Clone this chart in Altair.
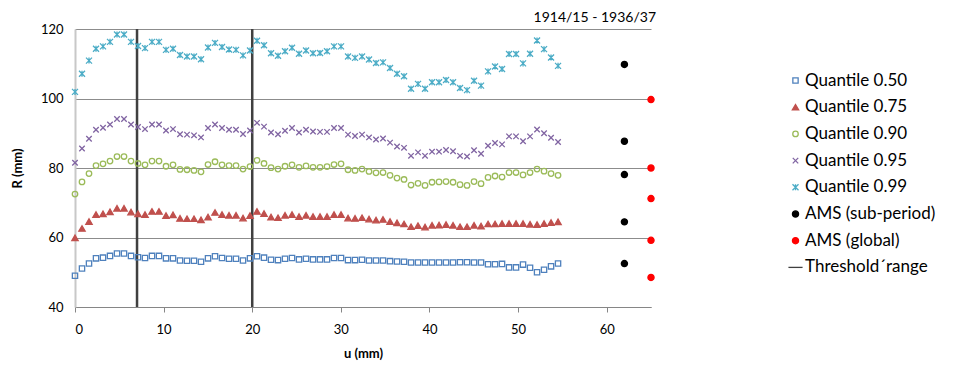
import altair as alt
import pandas as pd

# ---- data ----
u = [0.00, 0.79, 1.58, 2.37, 3.16, 3.95, 4.74, 5.53, 6.32, 7.11,
     7.90, 8.69, 9.48, 10.27, 11.06, 11.85, 12.64, 13.43, 14.22, 15.01,
     15.80, 16.59, 17.38, 18.17, 18.96, 19.75, 20.54, 21.33, 22.12, 22.91,
     23.70, 24.49, 25.28, 26.07, 26.86, 27.65, 28.44, 29.23, 30.02, 30.81,
     31.60, 32.39, 33.18, 33.97, 34.76, 35.55, 36.34, 37.13, 37.92, 38.71,
     39.50, 40.29, 41.08, 41.87, 42.66, 43.45, 44.24, 45.03, 45.82, 46.61,
     47.40, 48.19, 48.98, 49.77, 50.56, 51.35, 52.14, 52.93, 53.72, 54.51]

q50 = [49.0, 51.1, 52.5, 54.0, 54.2, 54.7, 55.4, 55.4, 54.7, 54.3,
       54.1, 54.7, 54.7, 54.0, 54.0, 53.4, 53.3, 53.3, 53.0, 54.0,
       54.6, 54.1, 53.9, 53.9, 53.4, 54.0, 54.6, 54.2, 53.6, 53.5,
       53.9, 54.1, 53.7, 53.9, 53.7, 53.7, 53.7, 54.1, 54.1, 53.5,
       53.5, 53.6, 53.4, 53.4, 53.4, 53.2, 53.1, 53.0, 52.8, 52.8,
       52.8, 52.8, 52.8, 52.8, 52.8, 52.9, 52.9, 52.8, 52.8, 52.3,
       52.3, 52.4, 51.4, 51.4, 52.2, 51.3, 50.0, 50.7, 51.7, 52.5]

q75 = [59.9, 62.6, 64.6, 66.6, 66.8, 67.4, 68.4, 68.4, 67.3, 66.8,
       66.6, 67.5, 67.5, 66.3, 66.5, 65.5, 65.4, 65.4, 65.1, 65.9,
       67.2, 66.6, 66.4, 66.4, 65.6, 66.3, 67.5, 66.9, 65.9, 65.7,
       66.4, 66.6, 66.0, 66.4, 66.0, 66.0, 66.0, 66.6, 66.6, 65.6,
       65.5, 65.7, 65.3, 65.0, 65.2, 64.6, 64.2, 63.9, 63.1, 63.4,
       63.0, 63.5, 63.6, 63.7, 63.5, 63.1, 63.1, 63.5, 63.3, 63.9,
       63.9, 64.0, 64.0, 64.0, 64.0, 63.8, 63.7, 64.0, 64.3, 64.5]

q90 = [72.5, 76.0, 78.4, 80.7, 81.2, 82.0, 83.3, 83.3, 82.0, 81.3,
       80.9, 82.0, 82.0, 80.5, 80.9, 79.6, 79.5, 79.3, 78.9, 81.0,
       81.8, 80.9, 80.7, 80.7, 79.7, 80.4, 82.2, 81.3, 80.1, 79.7,
       80.5, 80.9, 80.2, 80.6, 80.2, 80.2, 80.4, 81.0, 81.2, 79.5,
       79.3, 79.7, 79.0, 78.6, 78.7, 77.9, 77.1, 76.7, 75.1, 75.6,
       75.0, 75.9, 76.0, 76.1, 75.9, 75.2, 75.0, 76.1, 75.5, 77.3,
       77.7, 77.4, 78.7, 78.7, 78.0, 78.7, 79.7, 79.1, 78.4, 77.9]

q95 = [81.5, 85.6, 88.4, 91.0, 91.6, 92.5, 94.1, 94.1, 92.5, 91.8,
       91.2, 92.5, 92.5, 90.8, 91.2, 89.7, 89.6, 89.4, 88.8, 91.5,
       92.5, 91.5, 91.0, 91.0, 89.8, 90.8, 93.0, 91.9, 90.2, 89.7,
       90.7, 91.5, 90.2, 91.0, 90.5, 90.4, 90.4, 91.5, 91.5, 89.6,
       89.2, 89.6, 88.8, 88.2, 88.5, 87.3, 86.2, 85.8, 83.5, 84.5,
       83.5, 84.7, 84.7, 85.2, 84.8, 83.5, 83.3, 85.1, 84.1, 86.4,
       87.2, 86.8, 89.1, 89.1, 87.7, 89.1, 91.1, 90.0, 88.7, 87.5]

q99 = [101.9, 107.1, 110.9, 114.3, 115.0, 116.3, 118.4, 118.4, 116.3, 115.1,
       114.5, 116.3, 116.3, 114.0, 114.3, 112.5, 112.1, 112.1, 111.3, 114.7,
       116.0, 114.8, 114.1, 114.0, 112.4, 113.8, 116.6, 115.3, 113.0, 112.3,
       113.6, 114.6, 112.9, 113.8, 113.0, 113.1, 113.6, 115.0, 115.0, 112.1,
       111.7, 112.1, 111.2, 110.2, 110.4, 108.8, 107.1, 106.4, 102.8, 104.2,
       102.8, 104.7, 104.7, 105.3, 104.7, 103.0, 102.4, 105.1, 103.7, 107.8,
       109.2, 108.5, 112.8, 112.8, 110.1, 112.9, 116.7, 114.2, 111.8, 109.4]

ams_sub_u = 62
ams_sub = [109.8, 87.7, 78.1, 64.5, 52.5]
ams_glob_u = 65
ams_glob = [99.7, 80.0, 71.2, 59.2, 48.5]

thresholds = [7, 20]

series_names = ["Quantile 0.50", "Quantile 0.75", "Quantile 0.90", "Quantile 0.95",
                "Quantile 0.99", "AMS (sub-period)", "AMS (global)", "Threshold\u00b4range"]
shapes = ["square", "triangle-up", "circle",
          "M-1,-1L1,1M-1,1L1,-1",
          "M-1,-1L1,1M-1,1L1,-1M0,-1L0,1",
          "circle", "circle", "stroke"]
fills = ["transparent", "#C0504D", "transparent", "transparent", "transparent",
         "#000000", "#FF0000", "transparent"]
strokes = ["#4F81BD", "#C0504D", "#9BBB59", "#8064A2", "#4BACC6",
           "#000000", "#FF0000", "#404040"]
sizes = [28, 40, 30, 30, 36, 38, 38, 200]

title_text = "1914/15 - 1936/37"

# ---- build tables ----
rows = []
for name, vals in zip(series_names[:5], [q50, q75, q90, q95, q99]):
    for uu, r in zip(u, vals):
        rows.append({"u": uu, "R": r, "series": name})
for r in ams_sub:
    rows.append({"u": ams_sub_u, "R": r, "series": series_names[5]})
for r in ams_glob:
    rows.append({"u": ams_glob_u, "R": r, "series": series_names[6]})
df = pd.DataFrame(rows)
df_thr = pd.DataFrame({"u": thresholds})

FONT = "Lato"

x_enc = alt.X("u:Q", title="u (mm)",
              scale=alt.Scale(domain=[0, 65], nice=False, zero=False),
              axis=alt.Axis(values=[0, 10, 20, 30, 40, 50, 60], grid=False,
                            domainColor="#868686", domainWidth=1.2,
                            tickColor="#868686", tickSize=5, ticks=True,
                            labelPadding=11, titlePadding=11))
y_enc = alt.Y("R:Q", title="R (mm)",
              scale=alt.Scale(domain=[40, 120], nice=False, zero=False),
              axis=alt.Axis(values=[40, 60, 80, 100, 120], grid=True,
                            gridColor="#8C8C8C", gridWidth=1,
                            domainColor="#C8C8C8", domainWidth=2,
                            ticks=False, labelPadding=12, titlePadding=16))

rules = alt.Chart(df_thr).mark_rule(color="#404040", strokeWidth=2.5).encode(
    x=alt.X("u:Q", scale=alt.Scale(domain=[0, 65], nice=False))
)

legend = alt.Legend(title=None, orient="none", legendX=712, legendY=43,
                    labelFont=FONT, labelFontSize=17, labelColor="#000000",
                    rowPadding=8.7, symbolStrokeWidth=1.3, labelOffset=1,
                    padding=0)

points = alt.Chart(df).mark_point(opacity=1, strokeWidth=1.3).encode(
    x=x_enc,
    y=y_enc,
    shape=alt.Shape("series:N", scale=alt.Scale(domain=series_names, range=shapes), legend=legend),
    fill=alt.Fill("series:N", scale=alt.Scale(domain=series_names, range=fills), legend=legend),
    stroke=alt.Stroke("series:N", scale=alt.Scale(domain=series_names, range=strokes), legend=legend),
    size=alt.Size("series:N", scale=alt.Scale(type="ordinal", domain=series_names, range=sizes), legend=legend),
)

chart = alt.layer(rules, points).properties(
    width=576, height=278,
    autosize=alt.AutoSizeParams(type="none"),
    padding={"left": 67, "top": 21, "right": 295, "bottom": 55},
    title=alt.TitleParams(title_text, anchor="end", frame="group", font=FONT,
                          fontSize=14, fontWeight="normal", color="#000000",
                          offset=-2, dx=5),
).configure_view(stroke=None).configure_axis(
    labelFont=FONT, labelFontSize=13, labelColor="#000000",
    titleFont=FONT, titleFontSize=13, titleFontWeight="bold", titleColor="#000000",
)

chart.save("out.html", embed_options={"renderer": "svg", "actions": False})
